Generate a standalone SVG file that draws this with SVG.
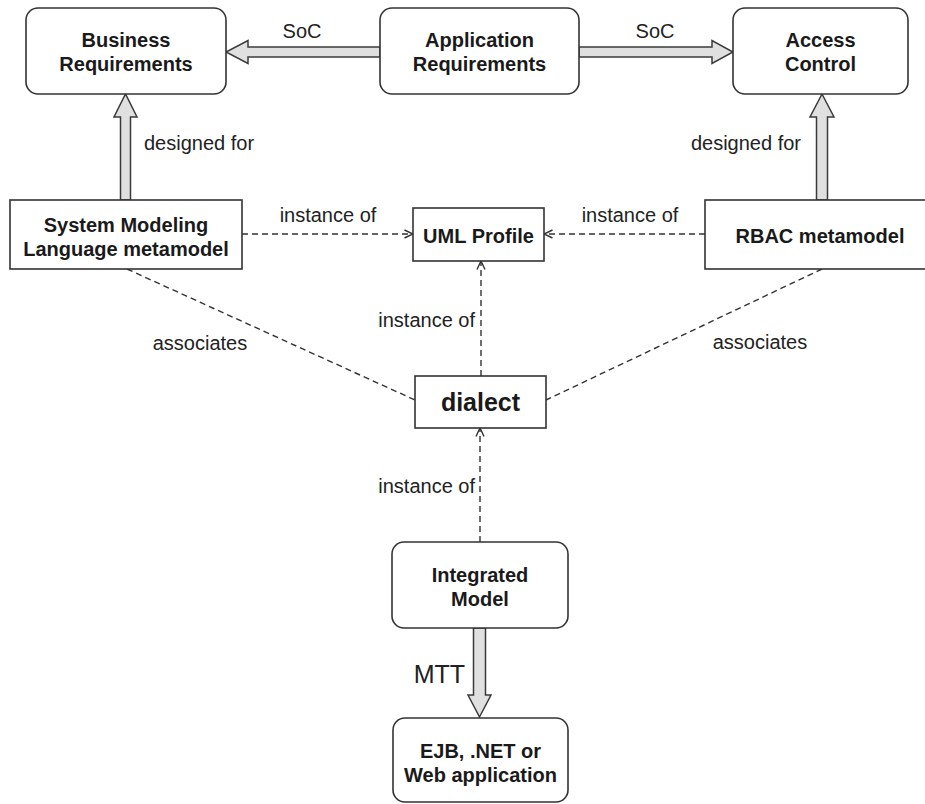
<svg xmlns="http://www.w3.org/2000/svg" width="925" height="804" viewBox="0 0 925 804">
  <style>
    .box { fill: #ffffff; stroke: #333333; stroke-width: 1.6; }
    .title { font-family: "Liberation Sans", Arial, sans-serif; font-weight: bold; font-size: 20px; fill: #1a1a1a; text-anchor: middle; }
    .label { font-family: "Liberation Sans", Arial, sans-serif; font-size: 20px; fill: #222222; }
    .block { fill: #e0e0e0; stroke: #3a3a3a; stroke-width: 1.5; stroke-linejoin: miter; }
    .dash { fill: none; stroke: #333333; stroke-width: 1.4; stroke-dasharray: 6 4; }
  </style>
  <defs>
    <marker id="open" viewBox="0 0 10 10" refX="9.5" refY="5" markerWidth="10" markerHeight="10" markerUnits="userSpaceOnUse" orient="auto">
      <path d="M1,1 L9.5,5 L1,9" fill="none" stroke="#333333" stroke-width="1.4"/>
    </marker>
  </defs>

  <rect width="925" height="804" fill="#ffffff"/>

  <!-- connectors -->
  <g id="connectors">
    <!-- SoC: Application -> Business -->
    <path class="block" d="M380,47 L248,47 L248,40.5 L226,52 L248,63.5 L248,57 L380,57 Z"/>
    <!-- SoC: Application -> Access Control -->
    <path class="block" d="M579,47 L712,47 L712,40.5 L733,52 L712,63.5 L712,57 L579,57 Z"/>
    <!-- designed for: System Modeling -> Business -->
    <path class="block" d="M120.5,200 L120.5,117 L114,117 L125.5,94 L137,117 L130.5,117 L130.5,200 Z"/>
    <!-- designed for: RBAC -> Access Control -->
    <path class="block" d="M816.5,200 L816.5,117 L810,117 L822,94 L834,117 L827.5,117 L827.5,200 Z"/>
    <!-- MTT: Integrated Model -> EJB -->
    <path class="block" d="M473.5,628 L473.5,695 L468,695 L479.5,717 L491,695 L485.5,695 L485.5,628 Z"/>

    <!-- instance of -->
    <line class="dash" x1="242" y1="234" x2="413" y2="234" marker-end="url(#open)"/>
    <line class="dash" x1="705" y1="234" x2="544" y2="234" marker-end="url(#open)"/>
    <line class="dash" x1="481" y1="376" x2="481" y2="261" marker-end="url(#open)"/>
    <line class="dash" x1="480" y1="542" x2="480" y2="428" marker-end="url(#open)"/>

    <!-- associates -->
    <line class="dash" x1="127" y1="269" x2="415" y2="400"/>
    <line class="dash" x1="822" y1="269" x2="546" y2="400"/>

    <!-- labels -->
    <text class="label" x="302" y="38" text-anchor="middle">SoC</text>
    <text class="label" x="655" y="38" text-anchor="middle">SoC</text>
    <text class="label" x="144" y="150">designed for</text>
    <text class="label" x="801" y="150" text-anchor="end">designed for</text>
    <text class="label" x="328" y="222" text-anchor="middle">instance of</text>
    <text class="label" x="630" y="222" text-anchor="middle">instance of</text>
    <text class="label" x="475" y="327" text-anchor="end">instance of</text>
    <text class="label" x="200" y="350" text-anchor="middle">associates</text>
    <text class="label" x="760" y="349" text-anchor="middle">associates</text>
    <text class="label" x="475" y="493" text-anchor="end">instance of</text>
    <text class="label" x="465" y="683" text-anchor="end" style="font-size:25px">MTT</text>
  </g>

  <!-- nodes -->
  <g id="business-requirements">
    <rect class="box" x="26" y="8" width="200" height="86" rx="12"/>
    <text class="title" x="126" y="47">Business</text>
    <text class="title" x="126" y="71">Requirements</text>
  </g>

  <g id="application-requirements">
    <rect class="box" x="380" y="8" width="199" height="86" rx="12"/>
    <text class="title" x="479.5" y="47">Application</text>
    <text class="title" x="479.5" y="71">Requirements</text>
  </g>

  <g id="access-control">
    <rect class="box" x="733" y="8" width="175" height="86" rx="12"/>
    <text class="title" x="820.5" y="47">Access</text>
    <text class="title" x="820.5" y="71">Control</text>
  </g>

  <g id="system-modeling-language">
    <rect class="box" x="10" y="200" width="232" height="69"/>
    <text class="title" x="126" y="232">System Modeling</text>
    <text class="title" x="126" y="256">Language metamodel</text>
  </g>

  <g id="uml-profile">
    <rect class="box" x="413" y="208" width="131" height="53"/>
    <text class="title" x="478.5" y="243">UML Profile</text>
  </g>

  <g id="rbac-metamodel">
    <rect class="box" x="705" y="200" width="231" height="69"/>
    <text class="title" x="820" y="243">RBAC metamodel</text>
  </g>

  <g id="dialect">
    <rect class="box" x="415" y="376" width="131" height="52"/>
    <text class="title" x="480.5" y="411" style="font-size:25px">dialect</text>
  </g>

  <g id="integrated-model">
    <rect class="box" x="392" y="542" width="176" height="86" rx="12"/>
    <text class="title" x="480" y="582">Integrated</text>
    <text class="title" x="480" y="606">Model</text>
  </g>

  <g id="ejb-net-web">
    <rect class="box" x="393" y="718" width="175" height="84" rx="12"/>
    <text class="title" x="480.5" y="758">EJB, .NET or</text>
    <text class="title" x="480.5" y="782">Web application</text>
  </g>
</svg>
